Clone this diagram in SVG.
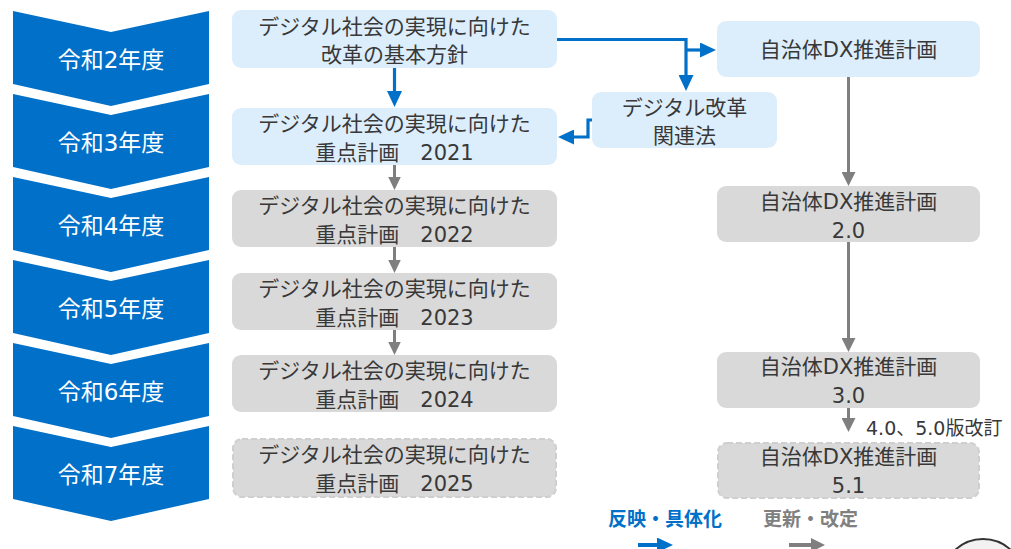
<svg xmlns="http://www.w3.org/2000/svg" width="1011" height="549" viewBox="0 0 1011 549">
<style>
  text { font-family: "DejaVu Sans", "Noto Sans CJK JP", sans-serif; }
  .chev { fill: #0070C8; }
  .chevt { fill: #ffffff; font-size: 23px; text-anchor: middle; }
  .bb { fill: #DCEDFC; }
  .gb { fill: #D9D9D9; }
  .db { fill: #D9D9D9; stroke: #CFCFCF; stroke-width: 2; stroke-dasharray: 6 3; }
  .bt { fill: #383838; font-size: 21px; text-anchor: middle; }
  .blue { fill: none; stroke: #0070C8; stroke-width: 3.2; }
  .gray { fill: none; stroke: #7F7F7F; stroke-width: 3; }
  .leg { font-size: 19px; font-weight: bold; font-family: "Noto Sans CJK JP", sans-serif; }
</style>
<defs>
  <marker id="hb" viewBox="0 0 16 15" refX="11" refY="7.5" markerWidth="16" markerHeight="15" markerUnits="userSpaceOnUse" orient="auto">
    <path d="M0,0 L16,7.5 L0,15 z" fill="#0070C8"/>
  </marker>
  <marker id="hg" viewBox="0 0 14 14" refX="9" refY="7" markerWidth="14" markerHeight="14" markerUnits="userSpaceOnUse" orient="auto">
    <path d="M0,0 L14,7 L0,14 z" fill="#7F7F7F"/>
  </marker>
  <marker id="hgs" viewBox="0 0 13 12.5" refX="8" refY="6.25" markerWidth="13" markerHeight="12.5" markerUnits="userSpaceOnUse" orient="auto">
    <path d="M0,0 L13,6.25 L0,12.5 z" fill="#7F7F7F"/>
  </marker>
</defs>

<g id="years">
  <g id="y2"><polygon class="chev" points="13,11 111,32 209,11 209,84 111,106 13,84"/><text class="chevt" x="111" y="68">令和2年度</text></g>
  <g id="y3"><polygon class="chev" points="13,94 111,115 209,94 209,167 111,189 13,167"/><text class="chevt" x="111" y="151">令和3年度</text></g>
  <g id="y4"><polygon class="chev" points="13,177 111,198 209,177 209,250 111,272 13,250"/><text class="chevt" x="111" y="234">令和4年度</text></g>
  <g id="y5"><polygon class="chev" points="13,260 111,281 209,260 209,333 111,355 13,333"/><text class="chevt" x="111" y="317">令和5年度</text></g>
  <g id="y6"><polygon class="chev" points="13,343 111,364 209,343 209,416 111,438 13,416"/><text class="chevt" x="111" y="400">令和6年度</text></g>
  <g id="y7"><polygon class="chev" points="13,426 111,447 209,426 209,499 111,521 13,499"/><text class="chevt" x="111" y="483">令和7年度</text></g>
</g>

<g id="connectors">
  <line class="blue" x1="394.5" y1="68" x2="394.5" y2="102" marker-end="url(#hb)"/>
  <line class="gray" x1="394.5" y1="165" x2="394.5" y2="185" marker-end="url(#hgs)"/>
  <line class="gray" x1="394.5" y1="247" x2="394.5" y2="268" marker-end="url(#hgs)"/>
  <line class="gray" x1="394.5" y1="330" x2="394.5" y2="350" marker-end="url(#hgs)"/>
  <polyline class="blue" points="557,39.5 686,39.5 686,86" marker-end="url(#hb)"/>
  <line class="blue" x1="686" y1="50" x2="711" y2="50" marker-end="url(#hb)"/>
  <polyline class="blue" points="592,120 588,120 588,137 563,137" marker-end="url(#hb)"/>
  <line class="gray" x1="848.5" y1="77" x2="848.5" y2="181" marker-end="url(#hg)"/>
  <line class="gray" x1="848.5" y1="242" x2="848.5" y2="347" marker-end="url(#hg)"/>
  <line class="gray" x1="848.5" y1="408" x2="848.5" y2="427" marker-end="url(#hg)"/>
</g>

<g id="kihon"><rect class="bb" x="232" y="10" width="325" height="58" rx="9"/>
  <text class="bt" x="394.5" y="34">デジタル社会の実現に向けた</text><text class="bt" x="394.5" y="62">改革の基本方針</text></g>
<g id="p2021"><rect class="bb" x="232" y="108" width="325" height="57" rx="9"/>
  <text class="bt" x="394.5" y="131">デジタル社会の実現に向けた</text><text class="bt" x="394.5" y="160">重点計画　2021</text></g>
<g id="p2022"><rect class="gb" x="232" y="190" width="325" height="57" rx="9"/>
  <text class="bt" x="394.5" y="213">デジタル社会の実現に向けた</text><text class="bt" x="394.5" y="242">重点計画　2022</text></g>
<g id="p2023"><rect class="gb" x="232" y="273" width="325" height="57" rx="9"/>
  <text class="bt" x="394.5" y="296">デジタル社会の実現に向けた</text><text class="bt" x="394.5" y="325">重点計画　2023</text></g>
<g id="p2024"><rect class="gb" x="232" y="355" width="325" height="57" rx="9"/>
  <text class="bt" x="394.5" y="378">デジタル社会の実現に向けた</text><text class="bt" x="394.5" y="407">重点計画　2024</text></g>
<g id="p2025"><rect class="db" x="233" y="439" width="323" height="58" rx="9"/>
  <text class="bt" x="394.5" y="462">デジタル社会の実現に向けた</text><text class="bt" x="394.5" y="491">重点計画　2025</text></g>

<g id="kanrenho"><rect class="bb" x="592" y="92" width="185" height="56" rx="9"/>
  <text class="bt" x="684.5" y="115">デジタル改革</text><text class="bt" x="684.5" y="143">関連法</text></g>

<g id="dx1"><rect class="bb" x="717" y="21" width="263" height="56" rx="9"/>
  <text class="bt" x="848.5" y="57">自治体DX推進計画</text></g>
<g id="dx2"><rect class="gb" x="717" y="186" width="263" height="56" rx="9"/>
  <text class="bt" x="848.5" y="209">自治体DX推進計画</text><text class="bt" x="848.5" y="238">2.0</text></g>
<g id="dx3"><rect class="gb" x="717" y="352" width="263" height="56" rx="9"/>
  <text class="bt" x="848.5" y="374">自治体DX推進計画</text><text class="bt" x="848.5" y="403">3.0</text></g>
<text class="bt" x="866" y="435" style="text-anchor:start;font-size:19px">4.0、5.0版改訂</text>
<g id="dx51"><rect class="db" x="718" y="443" width="261" height="55" rx="9"/>
  <text class="bt" x="848.5" y="464">自治体DX推進計画</text><text class="bt" x="848.5" y="493">5.1</text></g>

<g id="legend">
  <text class="leg" x="608" y="526" fill="#0070C8">反映・具体化</text>
  <text class="leg" x="763" y="526" fill="#808080">更新・改定</text>
  <line x1="638" y1="545" x2="668" y2="545" stroke="#0070C8" stroke-width="4" marker-end="url(#hb)"/>
  <line x1="789" y1="545" x2="820" y2="545" stroke="#7F7F7F" stroke-width="4" marker-end="url(#hg)"/>
  <circle cx="983" cy="580" r="41" fill="#F2F2F2" stroke="#333333" stroke-width="2"/>
</g>
</svg>
